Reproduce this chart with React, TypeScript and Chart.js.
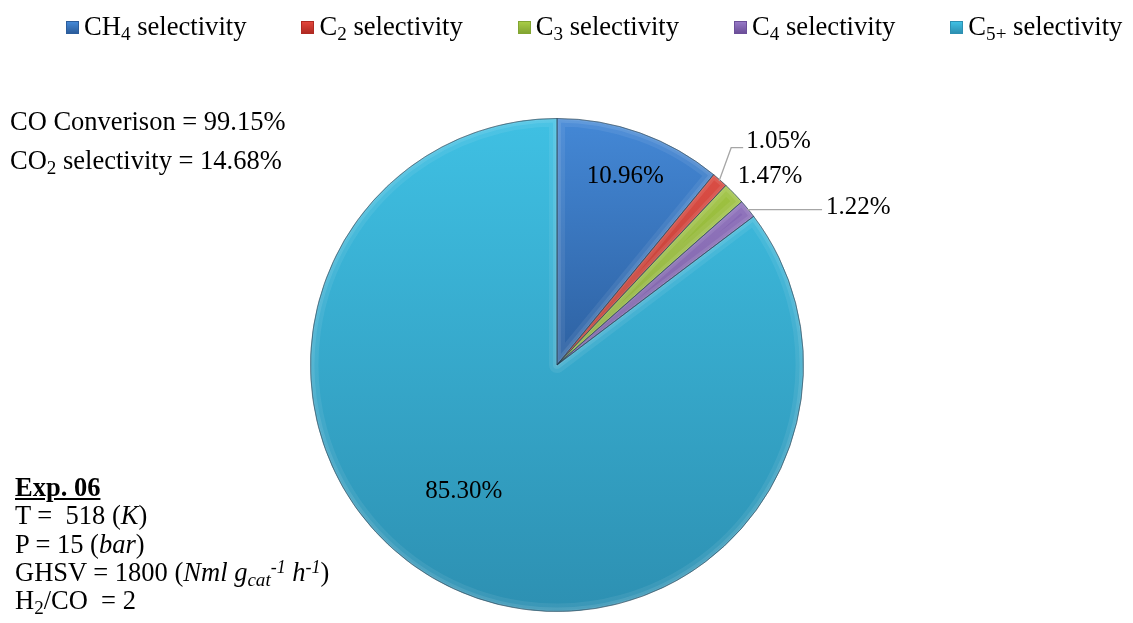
import React, { useEffect, useRef } from 'react';
import { Chart, registerables } from 'chart.js';

Chart.register(...registerables);

// ---- data ----
const categories = ['CH4 selectivity', 'C2 selectivity', 'C3 selectivity', 'C4 selectivity', 'C5+ selectivity'];
const legendMain = ['CH', 'C', 'C', 'C', 'C'];
const legendSub = ['4', '2', '3', '4', '5+'];
const selectivity = [10.96, 1.05, 1.47, 1.22, 85.3];
const valueLabels = ['10.96%', '1.05%', '1.47%', '1.22%', '85.30%'];
const lightColors = ['#4488d6', '#e2463c', '#a8cc46', '#9678c6', '#3fc0e3'];
const darkColors = ['#2b5d9c', '#b02a22', '#82a532', '#6c4f99', '#2d90b2'];

const SERIF = '"Liberation Serif", "Times New Roman", Times, serif';

// label layout (styling only)
type LabelStyle =
  | { kind: 'inside'; r: number; dx: number; dy: number }
  | { kind: 'leader'; path: number[][]; textDx: number; textDy: number }
  | { kind: 'free'; dx: number; dy: number };

const labelStyles: LabelStyle[] = [
  { kind: 'inside', r: 0.82, dx: 0, dy: 0 },
  { kind: 'leader', path: [[12, -33], [24, -33]], textDx: 3, textDy: 0 },
  { kind: 'free', dx: 36, dy: -18 },
  { kind: 'leader', path: [[75, 0]], textDx: 4, textDy: 4 },
  { kind: 'inside', r: 0.64, dx: -23, dy: -16 },
];

const bevelPlugin = {
  id: 'bevel',
  afterDatasetsDraw(chart: any) {
    const ctx = chart.ctx as CanvasRenderingContext2D;
    const meta = chart.getDatasetMeta(0);
    meta.data.forEach((arc: any) => {
      const p = arc.getProps(['x', 'y', 'startAngle', 'endAngle', 'outerRadius'], true);
      const path = () => {
        ctx.beginPath();
        ctx.moveTo(p.x, p.y);
        ctx.arc(p.x, p.y, p.outerRadius, p.startAngle, p.endAngle);
        ctx.closePath();
      };
      ctx.save();
      path();
      ctx.clip();
      ctx.lineJoin = 'round';
      ctx.strokeStyle = 'rgba(255,255,255,0.07)';
      ctx.lineWidth = 16;
      ctx.stroke();
      ctx.strokeStyle = 'rgba(255,255,255,0.09)';
      ctx.lineWidth = 8;
      ctx.stroke();
      ctx.strokeStyle = 'rgba(255,255,255,0.08)';
      ctx.lineWidth = 3;
      ctx.stroke();
      ctx.restore();
      ctx.save();
      path();
      ctx.strokeStyle = 'rgba(20,50,70,0.4)';
      ctx.lineWidth = 1;
      ctx.stroke();
      ctx.restore();
    });
  },
};

const labelPlugin = {
  id: 'sliceLabels',
  afterDatasetsDraw(chart: any) {
    const ctx = chart.ctx as CanvasRenderingContext2D;
    const meta = chart.getDatasetMeta(0);
    ctx.save();
    ctx.font = `25px ${SERIF}`;
    ctx.fillStyle = '#000';
    meta.data.forEach((arc: any, i: number) => {
      const p = arc.getProps(['x', 'y', 'startAngle', 'endAngle', 'outerRadius'], true);
      const mid = (p.startAngle + p.endAngle) / 2;
      const c = Math.cos(mid);
      const s = Math.sin(mid);
      const st = labelStyles[i];
      const text = valueLabels[i];
      if (st.kind === 'inside') {
        const r = p.outerRadius * st.r;
        ctx.textAlign = 'center';
        ctx.textBaseline = 'alphabetic';
        ctx.fillText(text, p.x + c * r + st.dx, p.y + s * r + st.dy + 8);
      } else if (st.kind === 'free') {
        const ex = p.x + c * p.outerRadius;
        const ey = p.y + s * p.outerRadius;
        ctx.textAlign = 'center';
        ctx.textBaseline = 'alphabetic';
        ctx.fillText(text, ex + st.dx, ey + st.dy + 8);
      } else {
        const ex = p.x + c * (p.outerRadius - 1);
        const ey = p.y + s * (p.outerRadius - 1);
        ctx.beginPath();
        ctx.moveTo(ex, ey);
        let lx = ex;
        let ly = ey;
        st.path.forEach(([dx, dy]) => {
          lx = ex + dx;
          ly = ey + dy;
          ctx.lineTo(lx, ly);
        });
        ctx.strokeStyle = '#a6a6a6';
        ctx.lineWidth = 1.3;
        ctx.stroke();
        ctx.textAlign = 'left';
        ctx.textBaseline = 'alphabetic';
        ctx.fillText(text, lx + st.textDx, ly + st.textDy);
      }
    });
    ctx.restore();
  },
};

const subStyle: React.CSSProperties = { fontSize: '0.72em', verticalAlign: '-0.26em', lineHeight: 0 };
const supStyle: React.CSSProperties = { fontSize: '0.68em', verticalAlign: '0.45em', lineHeight: 0 };

export default function App() {
  const canvasRef = useRef<HTMLCanvasElement | null>(null);

  useEffect(() => {
    if (!canvasRef.current) return;
    const chart = new Chart(canvasRef.current, {
      type: 'pie',
      data: {
        labels: categories,
        datasets: [
          {
            data: selectivity,
            backgroundColor: (ctx: any) => {
              const ch = ctx.chart;
              const area = ch.chartArea;
              const i = ctx.dataIndex ?? 0;
              if (!area) return lightColors[i];
              const g = ch.ctx.createLinearGradient(0, area.top, 0, area.bottom);
              g.addColorStop(0, lightColors[i]);
              g.addColorStop(i === 4 ? 1 : 0.55, darkColors[i]);
              if (i !== 4) g.addColorStop(1, darkColors[i]);
              return g;
            },
            borderColor: 'rgba(30,60,80,0.4)',
            borderWidth: 1,
          },
        ],
      },
      options: {
        responsive: false,
        animation: false,
        layout: { padding: { left: 310, right: 329, top: 118, bottom: 11 } },
        plugins: {
          legend: { display: false },
          tooltip: { enabled: false },
        },
      },
      plugins: [bevelPlugin, labelPlugin],
    });
    return () => chart.destroy();
  }, []);

  return (
    <div
      style={{
        position: 'absolute',
        left: 0,
        top: 0,
        width: 1133,
        height: 623,
        background: '#fff',
        fontFamily: SERIF,
        color: '#000',
        overflow: 'hidden',
      }}
    >
      <canvas ref={canvasRef} width={1133} height={623} style={{ position: 'absolute', left: 0, top: 0 }} />

      {/* legend */}
      <div
        style={{
          position: 'absolute',
          left: 66,
          top: 13,
          display: 'flex',
          gap: 55,
          fontSize: 26.6,
          lineHeight: '27px',
          whiteSpace: 'nowrap',
        }}
      >
        {categories.map((c, i) => (
          <div key={c} style={{ display: 'flex', alignItems: 'center' }}>
            <span
              style={{
                display: 'inline-block',
                width: 13,
                height: 13,
                marginRight: 5,
                marginTop: 2,
                background: `linear-gradient(180deg, ${lightColors[i]}, ${darkColors[i]})`,
                border: `1px solid ${darkColors[i]}`,
                boxSizing: 'border-box',
              }}
            />
            <span>
              {legendMain[i]}
              <sub style={subStyle}>{legendSub[i]}</sub> selectivity
            </span>
          </div>
        ))}
      </div>

      {/* conversion text */}
      <div style={{ position: 'absolute', left: 10, top: 108, fontSize: 26.5, lineHeight: '26px', whiteSpace: 'nowrap' }}>
        CO Converison = 99.15%
      </div>
      <div style={{ position: 'absolute', left: 10, top: 147, fontSize: 26.5, lineHeight: '26px', whiteSpace: 'nowrap' }}>
        CO<sub style={subStyle}>2</sub> selectivity = 14.68%
      </div>

      {/* experiment conditions */}
      <div
        style={{
          position: 'absolute',
          left: 15,
          top: 473,
          fontSize: 26.5,
          lineHeight: '28.3px',
          whiteSpace: 'pre',
        }}
      >
        <b>
          <u>Exp. 06</u>
        </b>
        {'\n'}T =  518 (<i>K</i>)
        {'\n'}P = 15 (<i>bar</i>)
        {'\n'}GHSV = 1800 (
        <i>
          Nml g<sub style={subStyle}>cat</sub>
          <sup style={supStyle}>-1</sup> h<sup style={supStyle}>-1</sup>
        </i>
        )
        {'\n'}H<sub style={subStyle}>2</sub>/CO  = 2
      </div>
    </div>
  );
}
